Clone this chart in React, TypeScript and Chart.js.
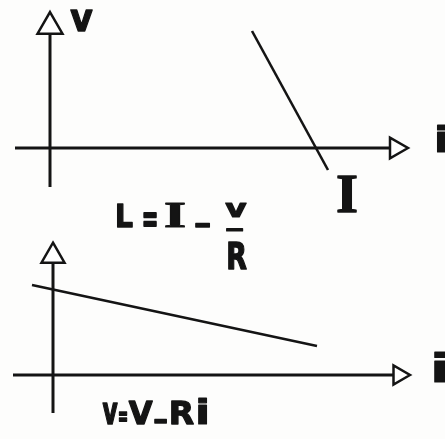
import React, { useEffect, useRef } from "react";
import { Chart, registerables } from "chart.js";

Chart.register(...registerables);

// ---- Data (arbitrary units; 1 unit = one tenth of an axis division) ----
// Top diagram: i = I - v/R   (line through the i-axis at I)
const topLineI = [20.2, 27.8];
const topLineV = [11.7, -2.2];
const topAxisIx = [-3.5, 34.6]; // horizontal i-axis (start, arrow)
const topAxisVy = [-3.9, 12.15]; // vertical v-axis (start, arrow)

// Bottom diagram: v = V - R i
const bottomLineI = [-2.1, 26.4];
const bottomLineV = [9.0, 2.9];
const bottomAxisIx = [-4.0, 34.6];
const bottomAxisVy = [-3.8, 11.9];

const INK = "#141414";
const SANS = '"DejaVu Sans", sans-serif';
const SERIF = '"Liberation Serif", serif';

// Each label is fitted into a box given in the diagram's data units:
// x0..x1 horizontally, yTop..yBot vertically.
type Label = { t: string; x0: number; x1: number; yTop: number; yBot: number; serif?: boolean; bottom?: boolean };

const labels: Label[] = [
  // top diagram
  { t: "v", x0: 2.0, x1: 4.3, yTop: 13.8, yBot: 11.6 },
  { t: "i", x0: 38.7, x1: 39.8, yTop: 2.3, yBot: -0.5 },
  { t: "I", x0: 28.7, x1: 30.7, yTop: -2.7, yBot: -6.5, serif: true },
  // formula  L=I_ v/R
  { t: "L", x0: 6.7, x1: 8.3, yTop: -5.5, yBot: -8.0 },
  { t: "=", x0: 9.3, x1: 10.7, yTop: -6.4, yBot: -7.8 },
  { t: "I", x0: 11.5, x1: 13.5, yTop: -5.5, yBot: -8.0, serif: true },
  { t: "_", x0: 14.5, x1: 16.0, yTop: -7.5, yBot: -8.0 },
  { t: "v", x0: 17.5, x1: 19.7, yTop: -5.5, yBot: -7.0 },
  { t: "_", x0: 17.6, x1: 19.3, yTop: -8.0, yBot: -8.4 },
  { t: "R", x0: 17.8, x1: 19.7, yTop: -9.4, yBot: -12.2 },
  // bottom diagram
  { t: "i", x0: 38.1, x1: 39.3, yTop: 2.3, yBot: -0.8, bottom: true },
  // formula  v=V_Ri
  { t: "v", x0: 4.9, x1: 6.5, yTop: -2.8, yBot: -5.0, bottom: true },
  { t: "=", x0: 6.55, x1: 7.45, yTop: -3.7, yBot: -4.7, bottom: true },
  { t: "V", x0: 7.5, x1: 10.0, yTop: -2.5, yBot: -5.0, bottom: true },
  { t: "_", x0: 10.1, x1: 11.4, yTop: -4.4, yBot: -4.9, bottom: true },
  { t: "R", x0: 11.8, x1: 14.1, yTop: -2.5, yBot: -5.0, bottom: true },
  { t: "i", x0: 14.5, x1: 15.4, yTop: -2.3, yBot: -5.0, bottom: true },
];

const pts = (xs: number[], ys: number[]) => xs.map((x, i) => ({ x, y: ys[i] }));

const labelPlugin = {
  id: "diagramLabels",
  afterDatasetsDraw(chart: any) {
    const ctx = chart.ctx as CanvasRenderingContext2D;
    const lw = 1.3;
    for (const l of labels) {
      const xs = chart.scales[l.bottom ? "x2" : "x"];
      const ys = chart.scales[l.bottom ? "y2" : "y"];
      const left = xs.getPixelForValue(l.x0) + lw / 2;
      const right = xs.getPixelForValue(l.x1) - lw / 2;
      const top = ys.getPixelForValue(l.yTop) + lw / 2;
      const bot = ys.getPixelForValue(l.yBot) - lw / 2;
      ctx.save();
      ctx.font = `bold 100px ${l.serif ? SERIF : SANS}`;
      ctx.textAlign = "left";
      ctx.textBaseline = "alphabetic";
      const m = ctx.measureText(l.t);
      const gw = m.actualBoundingBoxLeft + m.actualBoundingBoxRight;
      const gh = m.actualBoundingBoxAscent + m.actualBoundingBoxDescent;
      const sx = Math.max(right - left, 1) / gw;
      const sy = Math.max(bot - top, 1) / gh;
      ctx.translate(left + m.actualBoundingBoxLeft * sx, top + m.actualBoundingBoxAscent * sy);
      ctx.scale(sx, sy);
      ctx.fillStyle = INK;
      ctx.strokeStyle = INK;
      ctx.lineJoin = "round";
      ctx.lineWidth = lw / Math.sqrt(sx * sy);
      ctx.fillText(l.t, 0, 0);
      ctx.strokeText(l.t, 0, 0);
      ctx.restore();
    }
  },
};

const bgPlugin = {
  id: "bg",
  beforeDraw(chart: any) {
    const ctx = chart.ctx;
    ctx.save();
    ctx.fillStyle = "#fdfdfc";
    ctx.fillRect(0, 0, chart.width, chart.height);
    ctx.restore();
  },
};

function axisDataset(xs: number[], ys: number[], xAxisID: string, yAxisID: string, r: number, rot: number) {
  return {
    data: pts(xs, ys),
    xAxisID,
    yAxisID,
    showLine: true,
    borderColor: INK,
    borderWidth: 3,
    pointStyle: "triangle",
    pointRadius: [0, r],
    pointRotation: rot,
    pointBackgroundColor: "#ffffff",
    pointBorderColor: INK,
    pointBorderWidth: 2.5,
    clip: false,
    order: 1,
  };
}

function lineDataset(xs: number[], ys: number[], xAxisID: string, yAxisID: string) {
  return {
    data: pts(xs, ys),
    xAxisID,
    yAxisID,
    showLine: true,
    borderColor: INK,
    borderWidth: 2.6,
    pointRadius: 0,
    clip: false,
    order: 0,
  };
}

export default function App() {
  const ref = useRef<HTMLCanvasElement>(null);
  useEffect(() => {
    if (!ref.current) return;
    const chart = new Chart(ref.current, {
      type: "scatter",
      data: {
        datasets: [
          axisDataset(topAxisIx, [0, 0], "x", "y", 12, 90),
          axisDataset([0, 0], topAxisVy, "x", "y", 14.4, 0),
          lineDataset(topLineI, topLineV, "x", "y"),
          axisDataset(bottomAxisIx, [0, 0], "x2", "y2", 11, 90),
          axisDataset([0, 0], bottomAxisVy, "x2", "y2", 13.3, 0),
          lineDataset(bottomLineI, bottomLineV, "x2", "y2"),
        ] as any,
      },
      options: {
        animation: false,
        responsive: false,
        maintainAspectRatio: false,
        events: [],
        layout: { padding: 0, autoPadding: false },
        plugins: { legend: { display: false }, tooltip: { enabled: false } },
        scales: {
          x: { type: "linear", display: false, min: -5, max: 39.5 },
          y: { type: "linear", display: false, min: -29.1, max: 14.8 },
          x2: { type: "linear", display: false, min: -5.3, max: 39.2 },
          y2: { type: "linear", display: false, min: -6.4, max: 37.5 },
        },
      },
      plugins: [bgPlugin, labelPlugin],
    });
    return () => chart.destroy();
  }, []);
  return (
    <div style={{ position: "absolute", left: 0, top: 0, width: 445, height: 439 }}>
      <canvas ref={ref} width={445} height={439} style={{ display: "block", width: 445, height: 439 }} />
    </div>
  );
}
